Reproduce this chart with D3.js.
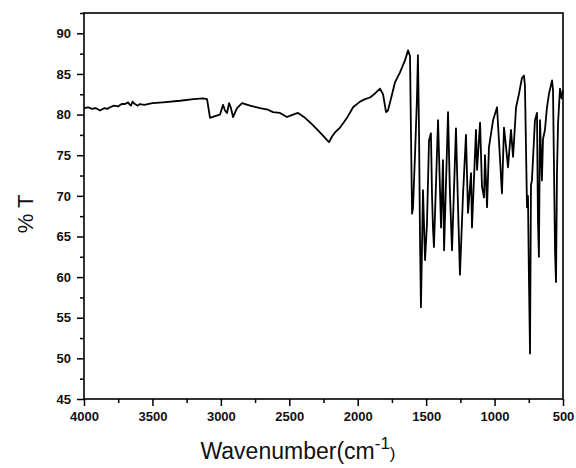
<!DOCTYPE html>
<html>
<head>
<meta charset="utf-8">
<script src="https://d3js.org/d3.v7.min.js"></script>
<style>
  body { margin: 0; background: #fff; }
  svg { display: block; }
</style>
</head>
<body>
<div id="chart"></div>
<script>
// FTIR spectrum - wavenumber (cm-1) vs % transmittance
const wavenumbers = [
  4000, 3970, 3942, 3915, 3883, 3850, 3830, 3810, 3780, 3752, 3725, 3700, 3678, 3665, 3657, 3645, 3635,
  3610, 3591, 3560, 3500, 3423, 3299, 3200, 3130, 3101,
  3079, 3043, 3006, 2984, 2970, 2955, 2940, 2926, 2911, 2882, 2845, 2787, 2714, 2656, 2619, 2568, 2517,
  2473, 2436, 2385, 2327, 2276, 2232, 2210, 2188, 2166, 2129, 2078, 2034, 1983, 1947, 1910, 1874, 1837,
  1815, 1793, 1779, 1749, 1727, 1691, 1654, 1632, 1618, 1611, 1603, 1596, 1581, 1567, 1560, 1552, 1545,
  1538, 1523, 1508, 1494, 1479, 1465, 1457, 1450, 1443, 1413, 1391, 1377, 1369, 1340, 1326, 1311, 1282,
  1267, 1253, 1231, 1209, 1194, 1172, 1165, 1136, 1128, 1106, 1092, 1077, 1070, 1055, 1041, 1011, 982,
  967, 946, 931, 916, 902, 880, 865, 843, 821, 800, 785, 778, 763, 756, 749, 741, 734, 727, 705, 690,
  683, 676, 668, 654, 646, 632, 617, 602, 580, 573, 558, 551, 544, 536, 522, 510, 500
];
const transmittance = [
  80.8, 80.9, 80.7, 80.8, 80.5, 80.8, 80.7, 80.9, 81.1, 81.0, 81.3, 81.3, 81.5, 81.2, 81.1, 81.6, 81.4,
  81.1, 81.3, 81.2, 81.4, 81.5, 81.7, 81.9, 82.0, 81.9,
  79.6, 79.8, 80.0, 81.2, 80.5, 80.2, 81.4, 80.8, 79.7, 80.8, 81.4, 81.1, 80.8, 80.6, 80.3, 80.2, 79.7,
  80.0, 80.2, 79.6, 78.7, 77.8, 77.0, 76.6, 77.3, 77.8, 78.4, 79.6, 80.9, 81.6, 81.9, 82.1, 82.6, 83.2,
  82.5, 80.3, 80.5, 82.5, 84.0, 85.2, 86.7, 87.9, 87.2, 78.0, 67.8, 68.5, 75.2, 82.0, 87.3, 78.0, 65.0,
  56.3, 70.7, 62.1, 66.5, 76.8, 77.7, 70.0, 66.0, 63.7, 79.3, 66.1, 74.4, 63.3, 80.3, 70.3, 63.3, 78.3,
  68.6, 60.3, 70.0, 77.5, 67.9, 72.8, 66.1, 78.1, 73.2, 79.0, 71.1, 69.8, 75.0, 68.6, 76.0, 79.3, 80.9,
  76.5, 70.3, 78.4, 76.0, 73.5, 78.1, 74.8, 80.9, 82.6, 84.5, 84.8, 83.5, 68.6, 70.0, 60.0, 50.6, 71.3, 71.9, 79.3, 80.2,
  67.0, 62.5, 79.3, 71.9, 77.0, 78.1, 80.9, 82.6, 84.2, 83.0, 63.0, 59.4, 72.8, 79.0, 83.2, 82.0, 83.0
];
const xTicks = [4000, 3500, 3000, 2500, 2000, 1500, 1000, 500];
const xMinorTicks = [3750, 3250, 2750, 2250, 1750, 1250, 750];
const yTicks = [45, 50, 55, 60, 65, 70, 75, 80, 85, 90];
const yMinorTicks = [47.5, 52.5, 57.5, 62.5, 67.5, 72.5, 77.5, 82.5, 87.5, 92.5];

const data = wavenumbers.map((w, i) => ({ w: w, t: transmittance[i] }));

const W = 576, H = 468;
const margin = { top: 13, right: 13, bottom: 69, left: 84 };
const width = W - margin.left - margin.right;
const height = H - margin.top - margin.bottom;
const font = "Arial, 'Liberation Sans', sans-serif";

const svg = d3.select("#chart").append("svg")
  .attr("width", W)
  .attr("height", H);

const g = svg.append("g")
  .attr("transform", `translate(${margin.left},${margin.top})`);

const x = d3.scaleLinear().domain([4000, 500]).range([0, width]);
const y = d3.scaleLinear().domain([45, 92.5]).range([height, 0]);

// minor ticks first, no labels
g.append("g")
  .attr("transform", `translate(0,${height})`)
  .call(d3.axisBottom(x).tickValues(xMinorTicks).tickSize(4).tickFormat(""))
  .call(a => a.select(".domain").remove());

g.append("g")
  .call(d3.axisLeft(y).tickValues(yMinorTicks).tickSize(4).tickFormat(""))
  .call(a => a.select(".domain").remove());

// major ticks + labels
g.append("g")
  .attr("transform", `translate(0,${height})`)
  .call(d3.axisBottom(x).tickValues(xTicks).tickSize(7).tickPadding(6).tickFormat(d3.format("d")))
  .call(a => a.select(".domain").remove());

g.append("g")
  .call(d3.axisLeft(y).tickValues(yTicks).tickSize(7).tickPadding(6))
  .call(a => a.select(".domain").remove());

svg.selectAll(".tick line").attr("stroke", "#000").attr("stroke-width", 1.5);
svg.selectAll(".tick text")
  .attr("fill", "#111")
  .style("font-family", font)
  .style("font-weight", "bold")
  .style("font-size", "13px");

// spectrum
const line = d3.line()
  .x(d => x(d.w))
  .y(d => y(d.t));

g.append("path")
  .datum(data)
  .attr("fill", "none")
  .attr("stroke", "#000")
  .attr("stroke-width", 1.8)
  .attr("stroke-linejoin", "round")
  .attr("d", line);

// frame
g.append("rect")
  .attr("width", width)
  .attr("height", height)
  .attr("fill", "none")
  .attr("stroke", "#000")
  .attr("stroke-width", 1.6);

// axis titles
const xTitle = svg.append("text")
  .attr("x", 298)
  .attr("y", 459)
  .attr("text-anchor", "middle")
  .style("font-family", font)
  .style("font-size", "23px")
  .attr("fill", "#111");

xTitle.append("tspan").text("Wavenumber(cm");
xTitle.append("tspan").attr("dy", -10).style("font-size", "17px").text("-1");
xTitle.append("tspan").attr("dy", 10).style("font-size", "17px").text(")");

svg.append("text")
  .attr("transform", "translate(33,214) rotate(-90)")
  .attr("text-anchor", "middle")
  .style("font-family", font)
  .style("font-size", "22px")
  .attr("fill", "#111")
  .text("% T");
</script>
</body>
</html>
